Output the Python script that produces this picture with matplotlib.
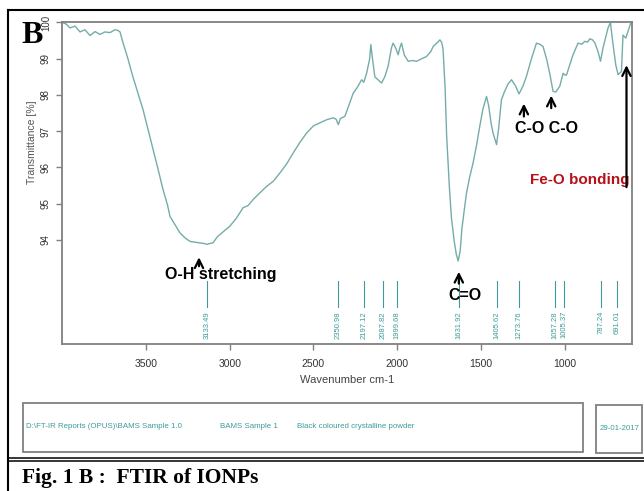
import matplotlib.pyplot as plt
from matplotlib.lines import Line2D
from matplotlib.patches import Rectangle

plt.rcParams['font.family'] = ['Liberation Sans', 'DejaVu Sans']

# spectrum (wavenumber, transmittance %)
wavenumber = [4000, 3976, 3952, 3922, 3893, 3863, 3833, 3803, 3774, 3744, 3714, 3684,
              3666, 3654, 3640, 3610, 3577, 3547, 3517, 3487, 3457, 3427, 3398, 3370,
              3356, 3326, 3297, 3267, 3237, 3208, 3178, 3150, 3136, 3120, 3100, 3071,
              3040, 2999, 2960, 2920, 2890, 2859, 2820, 2779, 2740, 2700, 2660, 2621,
              2580, 2541, 2500, 2462, 2420, 2382, 2365, 2352, 2340, 2313, 2290, 2263,
              2240, 2213, 2200, 2183, 2165, 2158, 2148, 2134, 2110, 2094, 2075, 2055,
              2035, 2025, 2010, 1995, 1985, 1975, 1958, 1935, 1910, 1885, 1855, 1826,
              1800, 1786, 1760, 1746, 1735, 1727, 1715, 1706, 1690, 1677, 1660, 1648,
              1637, 1625, 1615, 1600, 1587, 1570, 1548, 1528, 1508, 1490, 1468, 1455,
              1440, 1429, 1408, 1395, 1379, 1360, 1340, 1319, 1295, 1274, 1250, 1230,
              1200, 1170, 1150, 1131, 1110, 1091, 1071, 1055, 1031, 1011, 1000, 991,
              970, 952, 922, 900, 882, 865, 852, 835, 822, 803, 788, 773,
              743, 729, 713, 697, 683, 663, 654, 637, 624, 608, 600]
transmittance = [100.0, 99.96, 99.85, 99.9, 99.74, 99.8, 99.64, 99.75, 99.67, 99.74, 99.72, 99.8,
                 99.78, 99.74, 99.5, 99.05, 98.5, 98.05, 97.6, 97.05, 96.5, 95.95, 95.4, 94.95,
                 94.65, 94.42, 94.2, 94.06, 93.96, 93.94, 93.92, 93.9, 93.88, 93.9, 93.92, 94.1,
                 94.22, 94.38, 94.6, 94.89, 94.95, 95.12, 95.3, 95.48, 95.62, 95.85, 96.1, 96.4,
                 96.7, 96.95, 97.15, 97.23, 97.32, 97.37, 97.33, 97.18, 97.35, 97.41, 97.7, 98.05,
                 98.2, 98.42, 98.35, 98.6, 99.0, 99.39, 99.0, 98.5, 98.4, 98.33, 98.5, 98.79,
                 99.3, 99.43, 99.3, 99.11, 99.3, 99.43, 99.1, 98.93, 98.95, 98.93, 99.0, 99.06,
                 99.2, 99.34, 99.45, 99.52, 99.45, 99.25, 98.2, 96.9, 95.5, 94.6, 93.95, 93.6,
                 93.42, 93.7, 94.3, 94.85, 95.3, 95.7, 96.13, 96.6, 97.14, 97.6, 97.96, 97.7,
                 97.2, 96.95, 96.63, 97.1, 97.87, 98.1, 98.3, 98.42, 98.25, 98.03, 98.25, 98.51,
                 99.0, 99.43, 99.4, 99.34, 99.0, 98.6, 98.1, 98.08, 98.24, 98.6, 98.55, 98.55,
                 98.85, 99.11, 99.43, 99.4, 99.48, 99.46, 99.55, 99.52, 99.44, 99.2, 98.93, 99.3,
                 99.85, 100.0, 99.39, 98.83, 98.56, 98.65, 99.65, 99.57, 99.75, 99.98, 100.0]

peaks = [3133.49, 2350.98, 2197.12, 2087.82, 1999.68, 1631.92,
         1405.62, 1273.76, 1057.28, 1005.37, 787.24, 691.01]
peak_labels = ['%.2f' % p for p in peaks]

xticks = [3500, 3000, 2500, 2000, 1500, 1000]
yticks = [94, 95, 96, 97, 98, 99, 100]

curve_col = '#74acaa'
peak_col = '#3f9b9b'
frame_col = '#808080'

fig = plt.figure(figsize=(6.44, 4.91), dpi=100)
ax = fig.add_axes([0.0963, 0.2994, 0.8851, 0.6548])

ax.plot(wavenumber, transmittance, color=curve_col, lw=1.0)
ax.set_xlim(4000, 600)
ax.set_ylim(91.13, 100)

for sp in ax.spines.values():
    sp.set_color(frame_col)
    sp.set_linewidth(1.3)

ax.set_xticks(xticks)
ax.set_xticklabels([str(t) for t in xticks], fontsize=7.5, color='#333333')
ax.set_yticks(yticks)
ax.set_yticklabels([str(t) for t in yticks], fontsize=7, color='#333333',
                   rotation=90, va='center')
ax.tick_params(axis='x', length=4, width=1, color=frame_col, pad=6.5)
ax.tick_params(axis='y', length=4, width=1, color=frame_col, pad=4)

ax.text(-0.053, 0.628, 'Transmittance [%]', rotation=90, ha='center', va='center',
        fontsize=7.5, color='#555555', transform=ax.transAxes)
ax.text(0.5, -0.112, 'Wavenumber cm-1', ha='center', va='center',
        fontsize=8, color='#444444', transform=ax.transAxes)

# peak markers
for p, lab in zip(peaks, peak_labels):
    ax.plot([p, p], [92.16, 92.87], color=peak_col, lw=0.8)
    ax.text(p, 92.04, lab, rotation=90, ha='center', va='top',
            fontsize=5.5, color=peak_col)

# band assignments
arrow = dict(arrowstyle='->', color='black', lw=1.6, mutation_scale=15)
ax.annotate('', xy=(3183, 93.6), xytext=(3183, 93.2), arrowprops=arrow)
ax.text(3051, 93.04, 'O-H stretching', ha='center', va='center',
        fontsize=11.5, fontweight='bold')
ax.annotate('', xy=(1633, 93.2), xytext=(1633, 92.72), arrowprops=arrow)
ax.text(1597, 92.48, 'C=O', ha='center', va='center', fontsize=11.5, fontweight='bold')
ax.annotate('', xy=(1245, 97.84), xytext=(1245, 97.33), arrowprops=arrow)
ax.annotate('', xy=(1082, 98.06), xytext=(1082, 97.56), arrowprops=arrow)
ax.text(1110, 97.08, 'C-O C-O', ha='center', va='center', fontsize=11.5, fontweight='bold')
ax.text(912, 95.66, 'Fe-O bonding', ha='center', va='center', fontsize=11,
        fontweight='bold', color='#b5121b')
ax.annotate('', xy=(633, 98.9), xytext=(633, 95.38), arrowprops=arrow)

# panel letter
fig.text(0.0326, 0.9124, 'B', fontsize=23, fontweight='bold',
         family=['Liberation Serif', 'DejaVu Serif'], ha='left', va='baseline')

# page frame
fig.add_artist(Line2D([8 / 644, 1.0], [1 - 10 / 491] * 2, color='black', lw=1.5))
fig.add_artist(Line2D([8 / 644] * 2, [0, 1 - 10 / 491], color='black', lw=1.5))
fig.add_artist(Line2D([8 / 644, 1.0], [1 - 457.5 / 491] * 2, color='black', lw=1.1))
fig.add_artist(Line2D([8 / 644, 1.0], [1 - 460.8 / 491] * 2, color='black', lw=1.1))

# info boxes
fig.add_artist(Rectangle((23 / 644, 1 - 452 / 491), 560 / 644, 49 / 491,
                         fill=False, ec=frame_col, lw=1.3))
fig.add_artist(Rectangle((596 / 644, 1 - 453 / 491), 46 / 644, 48 / 491,
                         fill=False, ec=frame_col, lw=1.3))
info_y = 1 - 427 / 491
fig.text(26 / 644, info_y, 'D:\\FT-IR Reports (OPUS)\\BAMS Sample 1.0', fontsize=5.7,
         color=peak_col, va='center')
fig.text(220 / 644, info_y, 'BAMS Sample 1', fontsize=5.7, color=peak_col, va='center')
fig.text(297 / 644, info_y, 'Black coloured crystalline powder', fontsize=5.7,
         color=peak_col, va='center')
fig.text(600 / 644, 1 - 429 / 491, '29-01-2017', fontsize=5.7, color=peak_col, va='center')

# caption
fig.text(22 / 644, 1 - 483 / 491, 'Fig. 1 B :  FTIR of IONPs', fontsize=15.5,
         fontweight='bold', family=['Liberation Serif', 'DejaVu Serif'],
         ha='left', va='baseline')

fig.savefig('out.png', dpi=100)
